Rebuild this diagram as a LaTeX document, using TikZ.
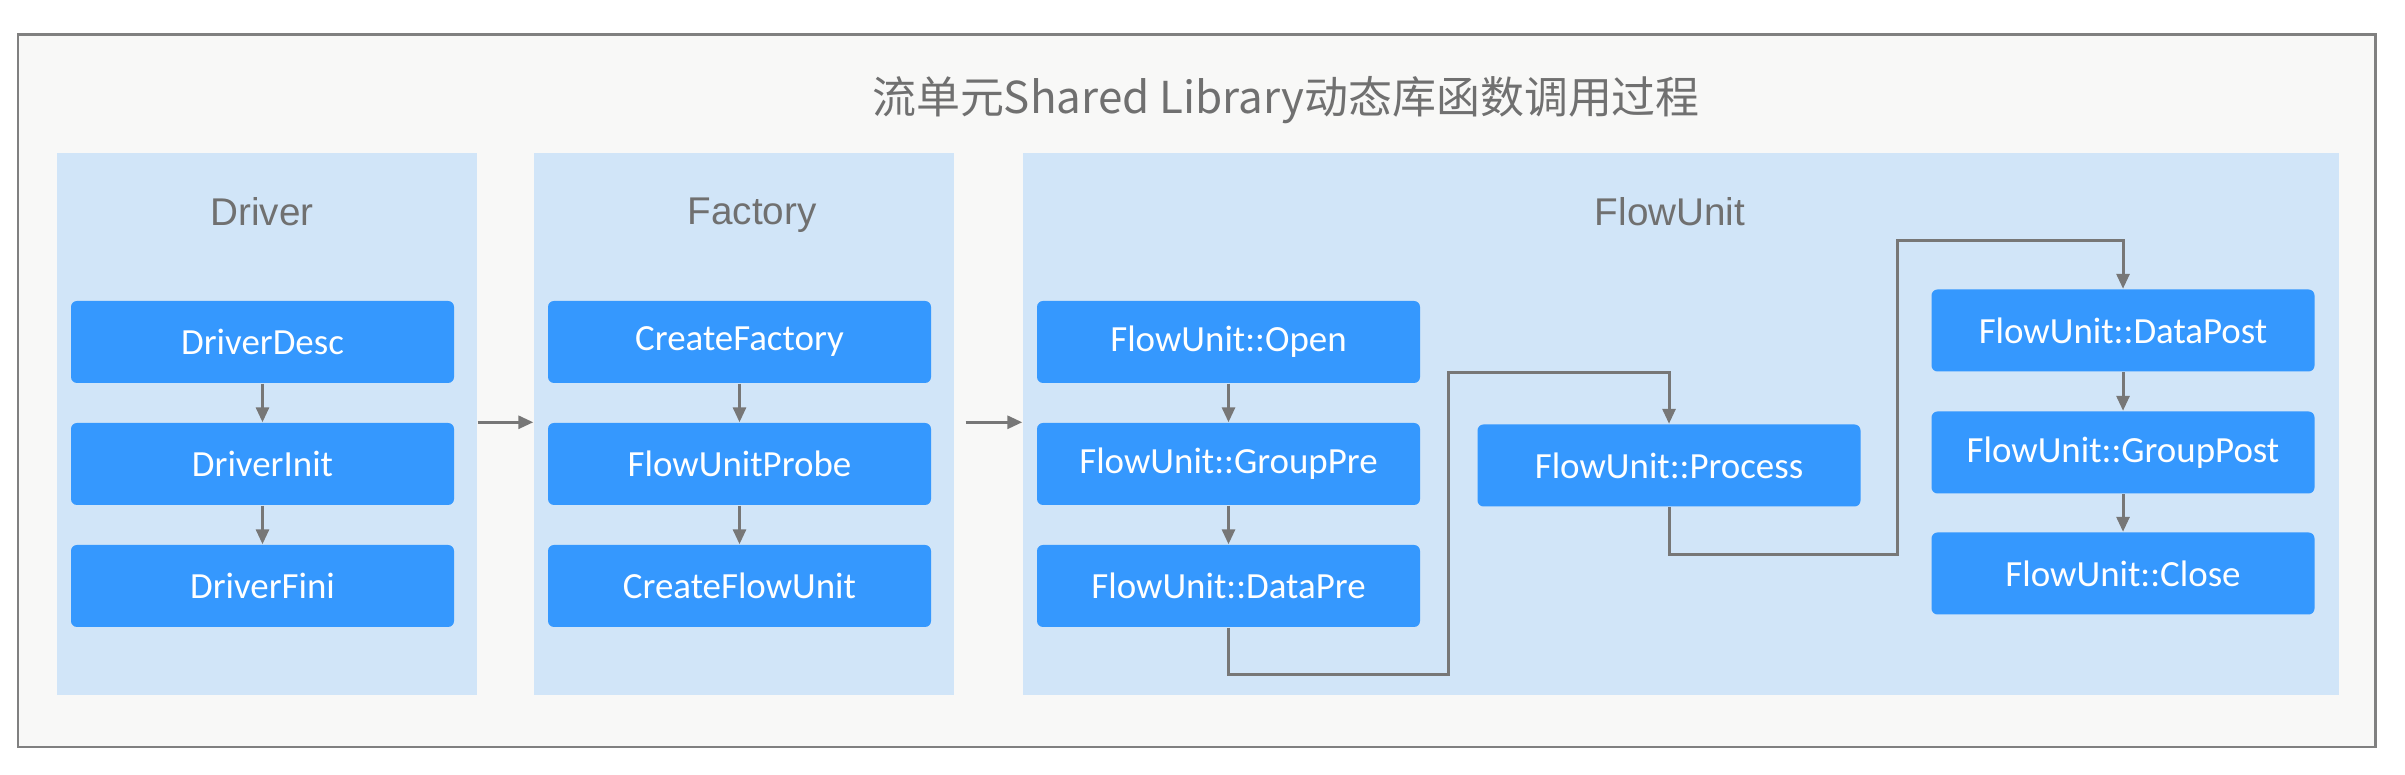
\documentclass[tikz,border=0pt]{standalone}
\usepackage{fontspec}
\setmainfont{Carlito}
\newfontfamily\cjkfont{Noto Sans CJK SC}
\newfontfamily\labfont{Liberation Sans}
\usetikzlibrary{arrows.meta}
\definecolor{framebg}{HTML}{F8F8F7}
\definecolor{framegray}{HTML}{808080}
\definecolor{panelblue}{HTML}{D1E5F8}
\definecolor{boxblue}{HTML}{3598FE}
\definecolor{linegray}{HTML}{777777}
\definecolor{labgray}{HTML}{707070}
\begin{document}
\begin{tikzpicture}[
	panel/.style={fill=panelblue,minimum width=4.2cm,minimum height=5.42cm,inner sep=0pt},
	fbox/.style={fill=boxblue,rounded corners=1.7pt,minimum width=3.83cm,minimum height=0.82cm,inner sep=0pt,text=white,font=\fontsize{10.5}{12}\selectfont},
	lab/.style={text=labgray,font=\labfont\fontsize{11}{13}\selectfont},
	arr/.style={draw=linegray,line width=0.85pt,-{Triangle[length=0.15cm,width=0.13cm]}}
]
\useasboundingbox (0,0) rectangle (24.05,-7.75);
\draw[fill=framebg,draw=framegray,line width=0.85pt] (0.18,-0.35) rectangle (23.75,-7.47);
\node[text=labgray,font=\cjkfont\fontsize{12.5}{15}\selectfont] (title) at (12.86,-1.0) {流单元Shared Library动态库函数调用过程};
\node[panel] (drv) at (2.67,-4.24) {};
\node[panel] (fac) at (7.44,-4.24) {};
\node[panel,minimum width=13.16cm] (fu) at (16.81,-4.24) {};
\node[lab] (drvlab) at (2.62,-2.12) {Driver};
\node[lab] (faclab) at (7.52,-2.15) {Factory};
\node[lab] (fulab) at (16.70,-2.12) {FlowUnit};
\node[fbox] (ddesc) at (2.625,-3.42) {DriverDesc};
\node[fbox] (dinit) at (2.625,-4.64) {DriverInit};
\node[fbox] (dfini) at (2.625,-5.86) {DriverFini};
\node[fbox] (cfac) at (7.395,-3.42) {CreateFactory};
\node[fbox] (probe) at (7.395,-4.64) {FlowUnitProbe};
\node[fbox] (cfu) at (7.395,-5.86) {CreateFlowUnit};
\node[fbox] (open) at (12.285,-3.42) {FlowUnit::Open};
\node[fbox] (gpre) at (12.285,-4.64) {FlowUnit::GroupPre};
\node[fbox] (dpre) at (12.285,-5.86) {FlowUnit::DataPre};
\node[fbox] (proc) at (16.69,-4.655) {FlowUnit::Process};
\node[fbox] (dpost) at (21.23,-3.305) {FlowUnit::DataPost};
\node[fbox] (gpost) at (21.23,-4.525) {FlowUnit::GroupPost};
\node[fbox] (close) at (21.23,-5.735) {FlowUnit::Close};
\draw[arr] (ddesc) -- (dinit);
\draw[arr] (dinit) -- (dfini);
\draw[arr] (cfac) -- (probe);
\draw[arr] (probe) -- (cfu);
\draw[arr] (open) -- (gpre);
\draw[arr] (gpre) -- (dpre);
\draw[arr] (dpost) -- (gpost);
\draw[arr] (gpost) -- (close);
\draw[arr] (drv.east |- dinit.north) -- (fac.west |- dinit.north);
\draw[arr] ([xshift=0.11cm]fac.east |- probe.north) -- (fu.west |- probe.north);
\coordinate (b1) at (14.48,-6.75);
\coordinate (b2) at (14.48,-3.73);
\draw[arr] (dpre.south) |- (b1) -- (b2) -| (proc.north);
\coordinate (c1) at (18.97,-5.55);
\coordinate (c2) at (18.97,-2.41);
\draw[arr] (proc.south) |- (c1) -- (c2) -| (dpost.north);
\end{tikzpicture}
\end{document}
